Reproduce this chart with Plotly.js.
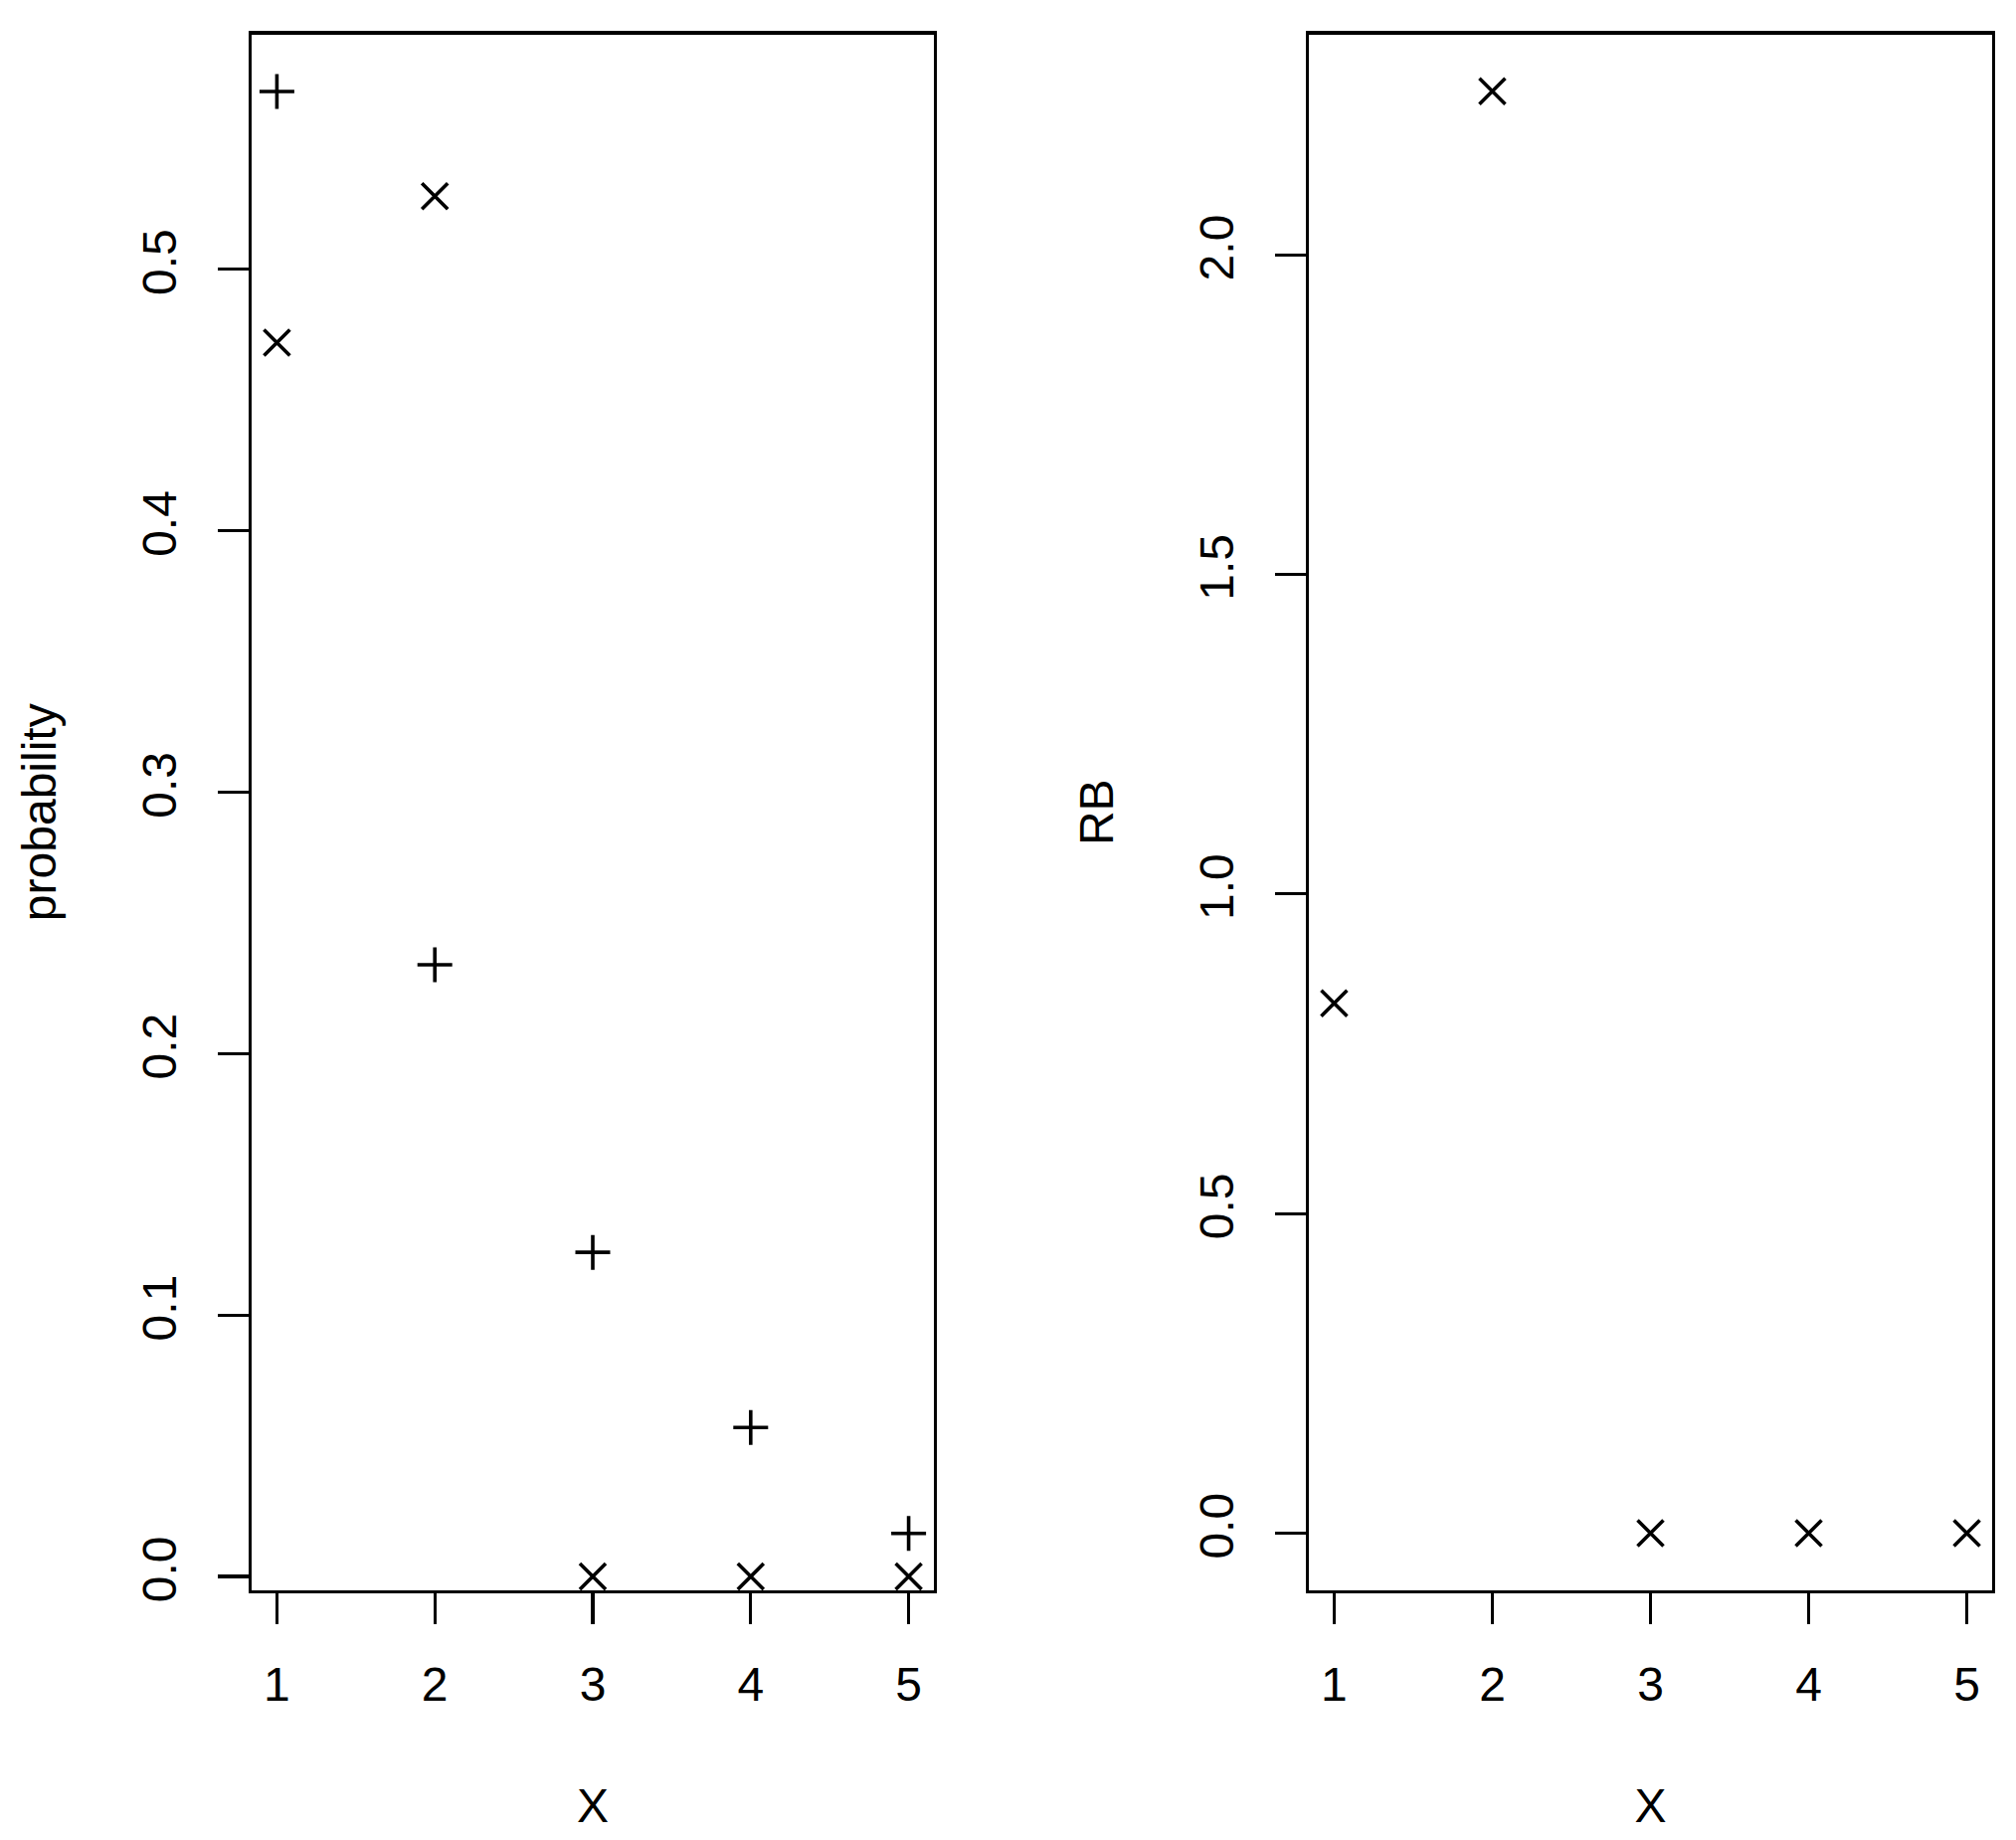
<!DOCTYPE html>
<html>
<head>
<meta charset="utf-8">
<script src="https://cdn.plot.ly/plotly-3.0.1.min.js"></script>
<style>html,body{margin:0;padding:0;background:#fff;}#chart{width:2027px;height:1850px;}</style>
</head>
<body>
<div id="chart"></div>
<script>
// Data
const xValues = [1, 2, 3, 4, 5];
const probPlus = [0.568, 0.234, 0.124, 0.057, 0.0165];   // "+" markers
const probCross = [0.472, 0.528, 0, 0, 0];               // "x" markers
const rbValues = [0.829, 2.256, 0, 0, 0];                // RB panel
const xTickVals = [1, 2, 3, 4, 5];
const xTickText = ["1", "2", "3", "4", "5"];
const yLeftTicks = [0.0, 0.1, 0.2, 0.3, 0.4, 0.5];
const yLeftText = ["0.0", "0.1", "0.2", "0.3", "0.4", "0.5"];
const yRightTicks = [0.0, 0.5, 1.0, 1.5, 2.0];
const yRightText = ["0.0", "0.5", "1.0", "1.5", "2.0"];

const FONT = "Liberation Sans, Arial, Helvetica, sans-serif";
const FS = 48;

function mk(symbol, size) {
  return {symbol: symbol, size: size, color: "black", line: {color: "black", width: 3.6}};
}

const traces = [
  {x: xValues, y: probPlus, type: "scatter", mode: "markers", marker: mk("cross-thin-open", 25), xaxis: "x", yaxis: "y", showlegend: false, hoverinfo: "x+y"},
  {x: xValues, y: probCross, type: "scatter", mode: "markers", marker: mk("x-thin-open", 26), xaxis: "x", yaxis: "y", showlegend: false, hoverinfo: "x+y"},
  {x: xValues, y: rbValues, type: "scatter", mode: "markers", marker: mk("x-thin-open", 26), xaxis: "x2", yaxis: "y2", showlegend: false, hoverinfo: "x+y"}
];

function xAxis(domain, anchor) {
  return {
    domain: domain, anchor: anchor, range: [0.84, 5.16],
    tickmode: "array", tickvals: xTickVals, ticktext: xTickText,
    ticks: "outside", ticklen: 31, tickwidth: 3.2, tickcolor: "black",
    ticklabelstandoff: 19,
    showline: true, linecolor: "black", linewidth: 3.2, mirror: true,
    showgrid: false, zeroline: false, automargin: false,
    tickfont: {family: FONT, size: FS, color: "black"},
    title: {text: "X", font: {family: FONT, size: FS, color: "black"}, standoff: 80}
  };
}
function yAxis(domain, anchor, range, vals, text, title, standoff) {
  return {
    domain: domain, anchor: anchor, range: range,
    tickmode: "array", tickvals: vals, ticktext: text, tickangle: -90,
    ticks: "outside", ticklen: 31, tickwidth: 3.2, tickcolor: "black",
    ticklabelstandoff: 23,
    showline: true, linecolor: "black", linewidth: 3.2, mirror: true,
    showgrid: false, zeroline: false, automargin: false,
    tickfont: {family: FONT, size: FS, color: "black"},
    title: {text: title, font: {family: FONT, size: FS, color: "black"}, standoff: standoff}
  };
}

const yDom = [1 - 1599 / 1850, 1 - 34.5 / 1850];
const layout = {
  width: 2027, height: 1850,
  margin: {l: 0, r: 0, t: 0, b: 0, pad: 0},
  paper_bgcolor: "white", plot_bgcolor: "white",
  font: {family: FONT, size: FS, color: "black"},
  showlegend: false,
  xaxis: xAxis([253 / 2027, 939 / 2027], "y"),
  yaxis: yAxis(yDom, "x", [-0.0053, 0.5899], yLeftTicks, yLeftText, "probability", 62),
  xaxis2: xAxis([1316 / 2027, 2003 / 2027], "y2"),
  yaxis2: yAxis(yDom, "x2", [-0.0896, 2.345], yRightTicks, yRightText, "RB", 62)
};

Plotly.newPlot("chart", traces, layout, {staticPlot: true, displayModeBar: false});
</script>
</body>
</html>
